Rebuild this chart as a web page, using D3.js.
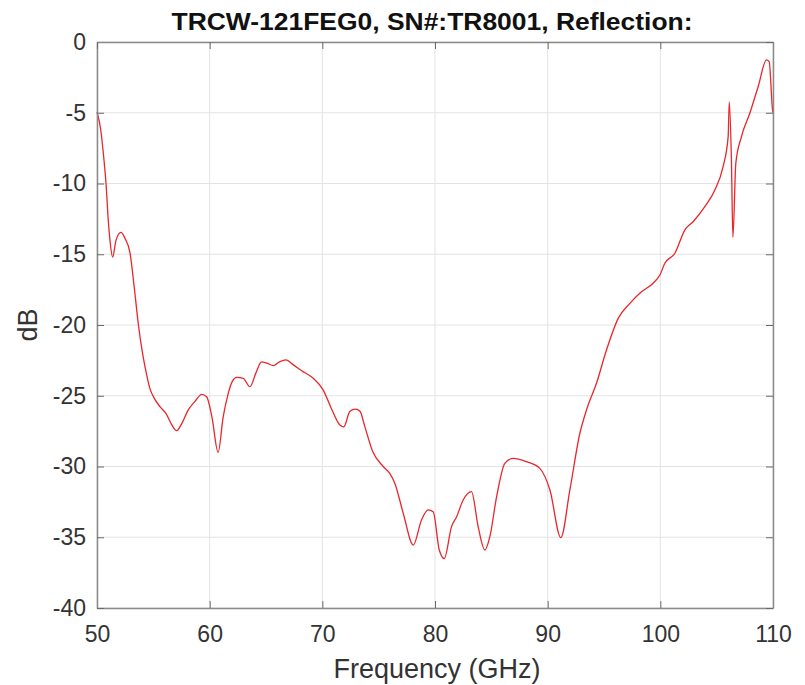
<!DOCTYPE html>
<html>
<head>
<meta charset="utf-8">
<script src="https://cdn.jsdelivr.net/npm/d3@7"></script>
<style>
  body { margin: 0; background: #fff; }
  text { font-family: "Liberation Sans", Arial, sans-serif; fill: #262626; }
</style>
</head>
<body>
<div id="chart"></div>
<script>
// reflection trace
var freq = [50.0, 50.33, 50.56, 50.8, 51.0, 51.15, 51.39, 51.69, 52.13, 52.5, 52.93, 53.3, 53.67, 54.0, 54.26,
            54.7, 55.1, 55.59, 56.12, 56.6, 57.07, 57.5, 58.1, 58.7, 59.29, 59.73, 60.2, 60.75, 61.2, 61.65,
            62.0, 62.4, 62.98, 63.58, 64.1, 64.6, 65.1, 65.65, 66.2, 66.77, 67.4, 68.16, 69.2, 70.08, 70.8,
            71.56, 71.9, 72.45, 72.95, 73.34, 73.78, 74.45, 75.4, 76.0, 76.44, 77.18, 78.07, 78.8, 79.4,
            79.84, 80.38, 80.82, 81.47, 81.92, 82.5, 83.24, 83.83, 84.43, 84.87, 85.47, 86.2, 86.94, 88.12,
            89.3, 90.2, 91.17, 91.97, 92.86, 93.45, 94.34, 95.22, 96.26, 97.3, 98.33, 99.36, 99.96, 100.4,
            101.29, 102.17, 102.91, 103.95, 104.84, 105.57, 106.02, 106.12, 106.31, 106.44, 106.7, 107.2,
            107.94, 108.68, 109.42, 109.66, 109.96, 110.0];
var refl = [-4.95, -6.2, -7.85, -10.0, -12.6, -14.0, -15.2, -14.0, -13.45, -13.9, -14.9, -17.3, -19.95, -21.8, -22.95,
            -24.5, -25.2, -25.77, -26.25, -27.0, -27.47, -27.0, -26.0, -25.4, -24.9, -25.07, -26.5, -29.0, -26.5, -24.83,
            -24.0, -23.7, -23.77, -24.36, -23.4, -22.6, -22.7, -22.87, -22.6, -22.47, -22.8, -23.23, -23.77, -24.6, -25.9,
            -27.07, -27.2, -26.1, -25.94, -26.1, -27.2, -28.9, -30.0, -30.5, -31.2, -33.3, -35.55, -33.78, -33.07,
            -33.2, -35.9, -36.5, -34.25, -33.55, -32.37, -31.78, -34.25, -35.9, -34.96, -32.13, -29.78, -29.42, -29.66,
            -30.13, -31.66, -35.03, -31.66, -27.65, -26.0, -24.1, -21.77, -19.53, -18.47, -17.65, -17.05, -16.47, -15.64,
            -14.93, -13.29, -12.7, -11.64, -10.46, -8.81, -6.69, -4.25, -8.34, -13.8, -8.57, -6.69,
            -5.04, -3.16, -1.27, -1.39, -4.8, -5.0];

var xTicks = [50, 60, 70, 80, 90, 100, 110];
var yTicks = [0, -5, -10, -15, -20, -25, -30, -35, -40];

var W = 805, H = 685;
var margin = {top: 42, right: 32, bottom: 77, left: 97};
var pw = W - margin.left - margin.right;
var ph = H - margin.top - margin.bottom;

var svg = d3.select("#chart").append("svg")
    .attr("width", W)
    .attr("height", H);

var g = svg.append("g")
    .attr("transform", "translate(" + margin.left + "," + margin.top + ")");

var x = d3.scaleLinear().domain([50, 110]).range([0, pw]);
var y = d3.scaleLinear().domain([-40, 0]).range([ph, 0]);

// grid
g.selectAll(".vgrid").data(xTicks).enter().append("line")
    .attr("x1", d => x(d)).attr("x2", d => x(d))
    .attr("y1", 0).attr("y2", ph)
    .style("stroke", "#e3e3e3").style("stroke-width", 1);

g.selectAll(".hgrid").data(yTicks).enter().append("line")
    .attr("y1", d => y(d)).attr("y2", d => y(d))
    .attr("x1", 0).attr("x2", pw)
    .style("stroke", "#e3e3e3").style("stroke-width", 1);

// curve
var pts = freq.map((f, i) => [f, refl[i]]);
var line = d3.line()
    .x(d => x(d[0]))
    .y(d => y(d[1]))
    .curve(d3.curveMonotoneX);

g.append("path")
    .datum(pts)
    .attr("d", line)
    .style("fill", "none")
    .style("stroke", "#e8262b")
    .style("stroke-width", 1.3);

// axes, ticks pointing inward, box all round
var tk = 7;
var plain = d => String(d);   // hyphen minus like the original, not U+2212
var bottomAx = d3.axisBottom(x).tickValues(xTicks).tickSizeInner(-tk).tickSizeOuter(0).tickPadding(18).tickFormat(plain);
var leftAx = d3.axisLeft(y).tickValues(yTicks).tickSizeInner(-tk).tickSizeOuter(0).tickPadding(11).tickFormat(plain);
var topAx = d3.axisTop(x).tickValues(xTicks).tickSizeInner(-tk).tickSizeOuter(0).tickFormat("");
var rightAx = d3.axisRight(y).tickValues(yTicks).tickSizeInner(-tk).tickSizeOuter(0).tickFormat("");

g.append("g").attr("transform", "translate(0," + ph + ")").attr("class", "ax").call(bottomAx);
g.append("g").attr("class", "ax").call(leftAx);
g.append("g").attr("class", "ax").call(topAx);
g.append("g").attr("transform", "translate(" + pw + ",0)").attr("class", "ax").call(rightAx);

g.selectAll(".ax path").style("stroke", "#8a8a8a").style("stroke-width", 1.5);
g.selectAll(".ax line").style("stroke", "#6a6a6a").style("stroke-width", 1);
g.selectAll(".ax text")
    .style("font-family", "'Liberation Sans', Arial, sans-serif")
    .style("font-size", "23px")
    .style("fill", "#333");

// titles
svg.append("text")
    .attr("x", margin.left + pw / 2 - 3)
    .attr("y", 30)
    .attr("text-anchor", "middle")
    .attr("textLength", 521)
    .attr("lengthAdjust", "spacingAndGlyphs")
    .style("font-size", "23px")
    .style("font-weight", "bold")
    .style("fill", "#111")
    .text("TRCW-121FEG0, SN#:TR8001, Reflection:");

svg.append("text")
    .attr("x", margin.left + pw / 2 + 2)
    .attr("y", 678)
    .attr("text-anchor", "middle")
    .style("font-size", "27px")
    .style("fill", "#333")
    .text("Frequency (GHz)");

svg.append("text")
    .attr("transform", "translate(37," + (margin.top + ph / 2) + ") rotate(-90)")
    .attr("text-anchor", "middle")
    .style("font-size", "27px")
    .style("fill", "#333")
    .text("dB");
</script>
</body>
</html>
